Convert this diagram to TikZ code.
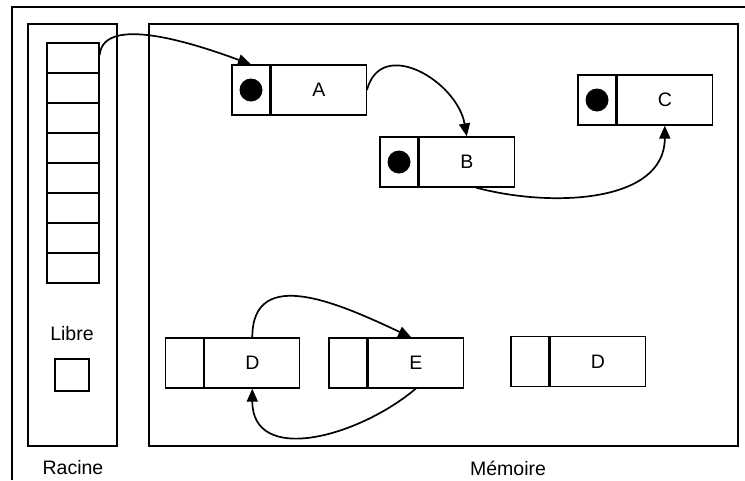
\documentclass[tikz,border=0pt]{standalone}
\usepackage{fontspec}
\setmainfont{Liberation Sans}
\usepackage{tikz}
\usetikzlibrary{positioning,arrows.meta}

\begin{document}
\begin{tikzpicture}[x=1pt, y=-1pt,
        every node/.style={font=\fontsize{19.5}{22}\selectfont},
        ptr/.style={draw, line width=1.3pt, minimum width=38pt,
                    minimum height=50pt, inner sep=0pt},
        val/.style={draw, line width=1.3pt, minimum width=95pt,
                    minimum height=50pt, inner sep=0pt},
        slot/.style={draw, line width=1.3pt, minimum width=52pt,
                     minimum height=30pt, inner sep=0pt},
        dot/.style={circle, fill, minimum size=23pt, inner sep=0pt},
        panel/.style={line width=1.8pt},
        arr/.style={-{Triangle[length=13pt, width=11pt]}, line width=1.7pt}
      ]
  \useasboundingbox (0,0) rectangle (745,480);

  % cadre general et les deux zones
  \draw[panel] (12,480) -- (12,7) -- (745,7);
  \draw[panel] (28,24) rectangle (117,446);
  \draw[panel] (149,24) rectangle (738,446);

  % pile des racines
  \foreach \i in {0,...,7}
    \node[slot] (r\i) at (73,58+30*\i) {};
  \node (libre) at (72,334) {Libre};
  \node[draw, line width=1.3pt, minimum width=34pt, minimum height=32pt,
        inner sep=0pt] (free) at (72,375) {};

  % cellules en memoire
  \node[ptr] (pA) at (251,90) {};
  \node[val, right=0pt of pA] (A) {A};
  \node[dot] (dA) at (pA) {};
  \node[ptr] (pB) at (399,162) {};
  \node[val, right=0pt of pB] (B) {B};
  \node[dot] (dB) at (pB) {};
  \node[ptr] (pC) at (597,100) {};
  \node[val, right=0pt of pC] (C) {C};
  \node[dot] (dC) at (pC) {};
  \node[ptr] (pD) at (184.5,363) {};
  \node[val, right=0pt of pD] (D) {D};
  \node[ptr] (pE) at (348,363) {};
  \node[val, right=0pt of pE] (E) {E};
  \node[ptr] (pF) at (530,361.5) {};
  \node[val, right=0pt of pF] (F) {D};

  % liens
  \draw[arr] ([yshift=3pt]r0.east) to[out=85, in=160, looseness=0.75] (pA.north);
  \draw[arr] (A.east) to[out=75, in=100, looseness=1.3] (B.north);
  \draw[arr] (B.290) to[out=-15, in=-90, looseness=1.0] (C.south);
  \draw[arr] (D.north) to[out=90, in=155, looseness=1.2] (E.100);
  \draw[arr] (E.south) to[out=-140, in=-90, looseness=1.2] (D.south);

  \node (racine) at (73,468) {Racine};
  \node (memoire) at (508,468) {M\'emoire};
\end{tikzpicture}
\end{document}
